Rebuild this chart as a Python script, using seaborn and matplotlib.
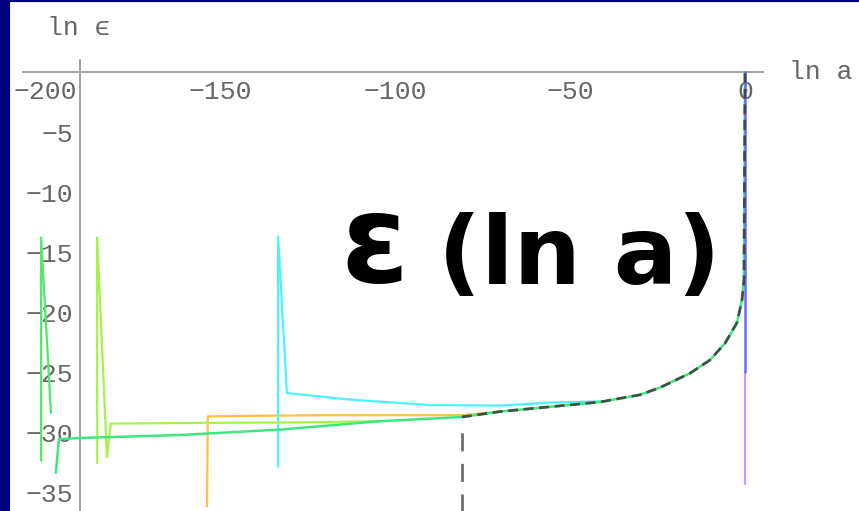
import matplotlib
matplotlib.use("Agg")
import matplotlib.pyplot as plt
from matplotlib.patches import Rectangle
from matplotlib.ticker import MultipleLocator, FixedLocator
import numpy as np
import pandas as pd
import seaborn as sns

# ---- data: ln(epsilon) versus ln(a) for several tracks ----
main_lna = [-196.9, -196.0, -190.0, -161.4, -132.9, -104.3, -80.9, -70.0, -55.7,
            -41.4, -30.0, -24.3, -15.7, -10.0, -5.7, -2.3, -0.86, -0.3, 0.0]
main_eps = [-33.4, -30.6, -30.5, -30.25, -29.8, -29.1, -28.75, -28.3, -27.9,
            -27.5, -26.9, -26.3, -25.1, -24.0, -22.6, -20.9, -19.0, -17.3, 0.0]

# reference track: vertical entry, then the attractor
drop_lna = [-80.9, -80.9]
drop_eps = [-38.0, -29.7]
dashed_lna = [-80.9, -70.0, -55.7, -41.4, -30.0, -24.3, -15.7, -10.0,
              -5.7, -2.3, -0.86, -0.3, 0.0]
dashed_eps = [-28.75, -28.3, -27.9, -27.5, -26.9, -26.3, -25.1, -24.0,
              -22.6, -20.9, -19.0, -17.3, 0.0]

green_lna = [-201.1, -201.1, -198.3]
green_eps = [-32.4, -13.8, -28.4]

lime_lna = [-185.1, -185.1, -182.3, -181.2, -160.0, -130.0, -104.3]
lime_eps = [-32.6, -13.8, -32.1, -29.3, -29.25, -29.2, -29.1]

orange_lna = [-153.7, -153.5, -140.0, -120.0, -100.0, -81.0, -70.0]
orange_eps = [-36.2, -28.7, -28.65, -28.6, -28.6, -28.6, -28.3]

cyan_lna = [-133.4, -133.4, -130.9, -112.9, -90.0, -70.0, -55.7, -41.4]
cyan_eps = [-32.9, -13.7, -26.75, -27.3, -27.75, -27.8, -27.55, -27.45]

violet_lna = [0.0, 0.0]
violet_eps = [-34.3, -25.0]
blue_lna = [0.0, 0.0]
blue_eps = [-25.0, 0.0]

x_ticks = [-200, -150, -100, -50, 0]
y_ticks = [-35, -30, -25, -20, -15, -10, -5]

# ---- figure ----
sns.set_theme(style="white")
plt.rcParams["font.family"] = ["Liberation Mono", "DejaVu Sans Mono"]

W, H = 859, 511
fig = plt.figure(figsize=(W / 100, H / 100), dpi=100, facecolor="#00007f")
fig.patches.append(Rectangle((10 / W, 0), 1, (H - 2) / H, transform=fig.transFigure,
                             facecolor="#e8ecff", edgecolor="none", zorder=-2))
fig.patches.append(Rectangle((11 / W, 0), 1, (H - 3) / H, transform=fig.transFigure,
                             facecolor="white", edgecolor="none", zorder=-1))

ax = fig.add_axes([10 / W, -5 / H, 763 / W, 480 / H])
ax.patch.set_visible(False)


def track(lna, eps, color, lw=1.6, z=2):
    df = pd.DataFrame({"lna": lna, "eps": eps})
    sns.lineplot(data=df, x="lna", y="eps", sort=False, estimator=None,
                 color=color, lw=lw, ax=ax, zorder=z)
    return ax.lines[-1]


track(violet_lna, violet_eps, "#c49bff", z=2)
track(orange_lna, orange_eps, "#ffbe45", z=2)
track(cyan_lna, cyan_eps, "#4af3ff", z=2)
track(lime_lna, lime_eps, "#a6f24a", z=3)
track(green_lna, green_eps, "#4fe86a", z=3)
track(main_lna, main_eps, "#3ee87e", lw=1.8, z=4)
track(blue_lna, blue_eps, "#6a6cff", lw=1.8, z=5)
dl = track(dashed_lna, dashed_eps, "#3a3a3a", lw=2.0, z=6)
dl.set_dashes([3.6, 2.0])
dl.set_alpha(0.85)
dd = track(drop_lna, drop_eps, "#555555", lw=2.0, z=6)
dd.set_dashes([6.5, 4.5])
dd.set_alpha(0.85)

ax.set_xlim(-210, 8)
ax.set_ylim(-37, 3)

# axes crossing in the style of a classic CAS plot
for s in ("top", "right"):
    ax.spines[s].set_visible(False)
ax.spines["bottom"].set_position(("data", 0))
ax.spines["left"].set_position(("data", -190))
ax.spines["bottom"].set_bounds(-206.3, 5.1)
ax.spines["left"].set_bounds(-37, 1.0)
for s in ("bottom", "left"):
    ax.spines[s].set_color("#9a9a9a")
    ax.spines[s].set_linewidth(1.3)
    ax.spines[s].set_zorder(1)

ax.xaxis.set_major_locator(FixedLocator(x_ticks))
ax.xaxis.set_minor_locator(MultipleLocator(10))
ax.yaxis.set_major_locator(FixedLocator(y_ticks))
ax.yaxis.set_minor_locator(MultipleLocator(1))
ax.set_xticklabels([f"{v:d}".replace("-", "\u2212") for v in x_ticks])
ax.set_yticklabels([f"{v:d}".replace("-", "\u2212") for v in y_ticks])
ax.tick_params(axis="both", which="both", direction="in", colors="#9a9a9a",
               labelcolor="#666666", labelsize=19)
ax.tick_params(axis="x", which="major", length=4, width=1.1, pad=6)
ax.tick_params(axis="x", which="minor", length=3, width=1.0)
ax.tick_params(axis="y", which="major", length=4, width=1.1, pad=5)
ax.tick_params(axis="y", which="minor", length=3, width=1.0)
ax.set_xlabel("")
ax.set_ylabel("")

# axis names
fig.text(47 / W, (H - 28) / H, "ln \u03f5", color="#666666", fontsize=19,
         va="center", ha="left")
fig.text(789 / W, (H - 72) / H, "ln a", color="#666666", fontsize=19,
         va="center", ha="left")

# headline
fig.text(340 / W, (H - 282) / H, "\u03b5", color="black", fontsize=88,
         fontweight="bold", family=["DejaVu Sans"], va="baseline", ha="left")
fig.text(438 / W, (H - 284) / H, "(ln a)", color="black", fontsize=68,
         fontweight="bold", family=["DejaVu Sans"], va="baseline", ha="left")

fig.savefig("out.png", dpi=100, facecolor=fig.get_facecolor())
